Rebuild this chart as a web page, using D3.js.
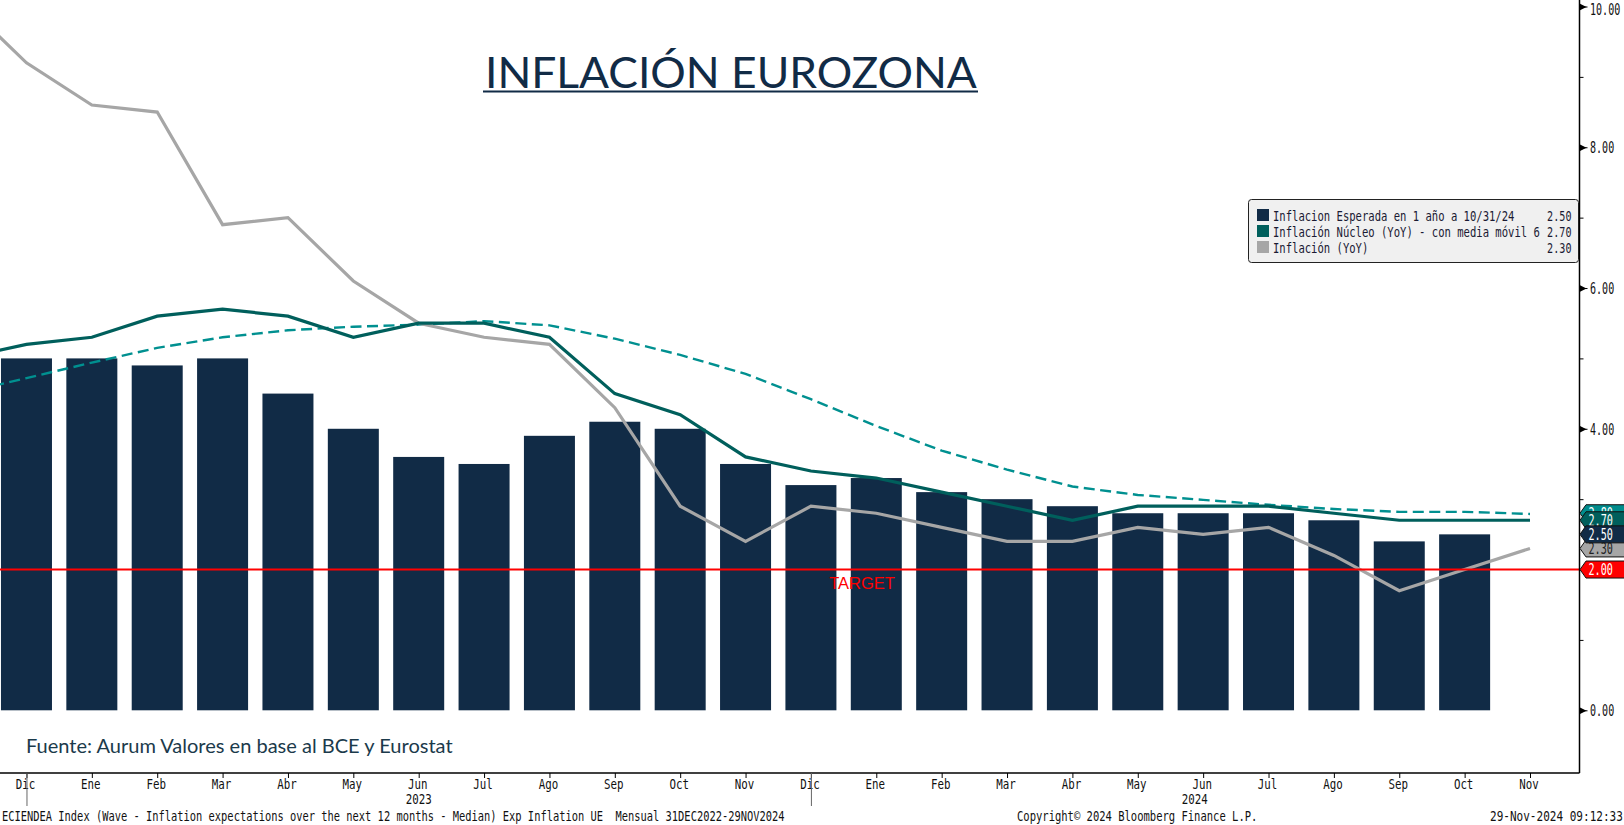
<!DOCTYPE html>
<html><head><meta charset="utf-8">
<script src="https://cdn.jsdelivr.net/npm/d3@7/dist/d3.min.js"></script>
<style>html,body{margin:0;padding:0;background:#fff;overflow:hidden}svg{display:block}text{white-space:pre}</style>
</head><body><svg id="c" width="1624" height="825"></svg>
<script>
const periods=["2022-11","2022-12","2023-01","2023-02","2023-03","2023-04","2023-05","2023-06","2023-07","2023-08","2023-09","2023-10","2023-11","2023-12","2024-01","2024-02","2024-03","2024-04","2024-05","2024-06","2024-07","2024-08","2024-09","2024-10","2024-11"];
const monthLabels=[null,"Dic","Ene","Feb","Mar","Abr","May","Jun","Jul","Ago","Sep","Oct","Nov","Dic","Ene","Feb","Mar","Abr","May","Jun","Jul","Ago","Sep","Oct","Nov"];
const expected=[null,5.0,5.0,4.9,5.0,4.5,4.0,3.6,3.5,3.9,4.1,4.0,3.5,3.2,3.3,3.1,3.0,2.9,2.8,2.8,2.8,2.7,2.4,2.5,null];
const core=[5.0,5.2,5.3,5.6,5.7,5.6,5.3,5.5,5.5,5.3,4.5,4.2,3.6,3.4,3.3,3.1,2.9,2.7,2.9,2.9,2.9,2.8,2.7,2.7,2.7];
const coreMA=[4.5,4.72,4.94,5.15,5.3,5.4,5.45,5.48,5.53,5.47,5.28,5.05,4.78,4.42,4.04,3.69,3.42,3.18,3.06,2.99,2.92,2.86,2.82,2.82,2.79];
const headline=[10.1,9.2,8.6,8.5,6.9,7.0,6.1,5.5,5.3,5.2,4.3,2.9,2.4,2.9,2.8,2.6,2.4,2.4,2.6,2.5,2.6,2.2,1.7,2.0,2.3];
const targetValue=2.0;
const yMajor=[0,4,6,8,10];
const yMinor=[1,2,3,5,7,9];
const legendRows=[["Inflacion Esperada en 1 año a 10/31/24","2.50","#112B46"],["Inflación Núcleo (YoY) - con media móvil 6","2.70","#005F5C"],["Inflación (YoY)","2.30","#A6A6A6"]];
const tags=[[2.8,"2.80","#008C8C","#fff"],[2.7,"2.70","#005F5C","#fff"],[2.3,"2.30","#A6A6A6","#222"],[2.5,"2.50","#112B46","#fff"],[2.0,"2.00","#FF0000","#fff"]];
const yearLabels=[["2023","2023-06",0],["2024","2024-06",-0.13]];

const W=1624,H=825,axisX=1579.5,axisY=773;
const MONO='"DejaVu Sans Mono",monospace';
const svg=d3.select("#c");
const x=d3.scalePoint().domain(periods).range([-38.9,1530]);
const step=x.step();
const y=d3.scaleLinear().domain([0,10]).range([710.3,6.5]);

// narrow a text horizontally to a target width, keeping it real text
function fit(sel,px,py,width){
  const natural=sel.node().getComputedTextLength();
  sel.attr("transform",`translate(${px},${py}) scale(${width/natural},1)`);
  return sel;
}
function mono(g,str,px,py,o={}){
  const cw=o.cw||6.5;
  const t=g.append("text").text(str)
    .attr("font-family",MONO).attr("font-size",o.size||14.5)
    .attr("fill",o.fill||"#111").attr("text-anchor",o.anchor||"start");
  return fit(t,px,py,str.length*cw);
}

svg.append("defs").append("clipPath").attr("id","plot").append("rect")
  .attr("x",0).attr("y",0).attr("width",axisX).attr("height",axisY);
const plot=svg.append("g").attr("clip-path","url(#plot)");

const barW=51;
plot.append("g").selectAll("rect").data(periods.filter((p,i)=>expected[i]!=null)).join("rect")
  .attr("x",p=>x(p)-barW/2).attr("width",barW)
  .attr("y",p=>y(expected[periods.indexOf(p)]))
  .attr("height",p=>y(0)-y(expected[periods.indexOf(p)]))
  .attr("fill","#112B46");

const line=d3.line().x((d,i)=>x(periods[i])).y(d=>y(d));
plot.append("path").attr("d",line(coreMA)).attr("fill","none").attr("stroke","#009090").attr("stroke-width",2.4).attr("stroke-dasharray","11 5.5");
plot.append("path").attr("d",line(headline)).attr("fill","none").attr("stroke","#A6A6A6").attr("stroke-width",3.2);
plot.append("path").attr("d",line(core)).attr("fill","none").attr("stroke","#005F5C").attr("stroke-width",3.2);
plot.append("line").attr("x1",0).attr("x2",axisX).attr("y1",y(targetValue)).attr("y2",y(targetValue)).attr("stroke","#FF0000").attr("stroke-width",2);
plot.append("text").attr("x",862).attr("y",589).attr("text-anchor","middle").attr("font-family","Liberation Sans").attr("font-size",16.5).attr("fill","#FF0000").text("TARGET");

// title and source
const title=svg.append("text").text("INFLACIÓN EUROZONA")
  .attr("font-family","Lato").attr("font-size",43).attr("fill","#112B46");
fit(title,485,87.5,492);
svg.append("line").attr("x1",483).attr("x2",978).attr("y1",91.5).attr("y2",91.5).attr("stroke","#112B46").attr("stroke-width",2);
const src=svg.append("text").text("Fuente: Aurum Valores en base al BCE y Eurostat")
  .attr("font-family","Lato").attr("font-size",18.5).attr("fill","#1B3A4B");
fit(src,26,753,427);

// right axis
const yAxis=svg.append("g").attr("transform",`translate(${axisX},0)`)
  .call(d3.axisRight(y).tickValues(yMajor).tickSize(8).tickFormat(d3.format(".2f")));
yAxis.select(".domain").attr("d",`M0,0V${axisY}`).attr("stroke","#000").attr("stroke-width",1.5);
yAxis.selectAll(".tick line").attr("stroke","#000");
yAxis.selectAll(".tick text").remove();
yAxis.selectAll(".tick").each(function(d){
  const t=d3.select(this);
  t.append("path").attr("d","M0,-3.5L7,0L0,3.5Z").attr("fill","#000");
  mono(t,d3.format(".2f")(d),10.5,d===10?8:5.5,{size:15,cw:6.05});
});
svg.append("g").attr("transform",`translate(${axisX},0)`)
  .call(d3.axisRight(y).tickValues(yMinor).tickSize(4).tickFormat(""))
  .call(g=>g.select(".domain").remove())
  .call(g=>g.selectAll(".tick line").attr("stroke","#000"));

// x axis
const xAxis=svg.append("g").attr("transform",`translate(0,${axisY})`)
  .call(d3.axisBottom(x).tickValues(periods.slice(1)).tickSize(5).tickFormat(""));
xAxis.select(".domain").attr("d",`M0,0H${axisX}`).attr("stroke","#000").attr("stroke-width",1.5);
xAxis.selectAll(".tick line").attr("stroke","#000");
xAxis.selectAll(".tick").each(function(p){
  mono(d3.select(this),monthLabels[periods.indexOf(p)],-1.5,16,{anchor:"middle"});
});
["2022-12","2023-12"].forEach(p=>{
  svg.append("line").attr("x1",x(p)+.5).attr("x2",x(p)+.5).attr("y1",axisY).attr("y2",806).attr("stroke","#666");
});
yearLabels.forEach(([t,p,off])=>mono(svg,t,x(p)+off*step,804,{anchor:"middle"}));

// footer
mono(svg,"ECIENDEA Index (Wave - Inflation expectations over the next 12 months - Median) Exp Inflation UE  Mensual 31DEC2022-29NOV2024",2,820.5,{cw:6.266});
mono(svg,"Copyright© 2024 Bloomberg Finance L.P.",1017,820.5,{cw:6.33});
mono(svg,"29-Nov-2024 09:12:33",1490,820.5,{cw:6.65});

// legend
const lg=svg.append("g");
lg.append("rect").attr("x",1248.5).attr("y",199.5).attr("width",330).attr("height",63).attr("rx",3)
  .attr("fill","#F0F0F0").attr("stroke","#222");
legendRows.forEach((r,i)=>{
  const yy=209+i*16;
  lg.append("rect").attr("x",1257).attr("y",yy).attr("width",12).attr("height",12).attr("fill",r[2]);
  mono(lg,r[0],1273,yy+11.5,{cw:6.36,size:14.5,fill:"#1a1a33"});
  mono(lg,r[1],1571.5,yy+11.5,{cw:6.1,size:14.5,anchor:"end",fill:"#1a1a33"});
});

// last-value tags
tags.forEach(([v,t,fill,tc])=>{
  const cy=y(v), g=svg.append("g").attr("transform",`translate(1580,${cy})`);
  const h=8.5;
  g.append("path").attr("d",`M0,0L6,${-h}H${W-1580+2}V${h}H6Z`).attr("fill",fill).attr("stroke","#111").attr("stroke-width",1);
  mono(g,t,8.5,5.5,{fill:tc,size:15,cw:6.1});
});
</script></body></html>
